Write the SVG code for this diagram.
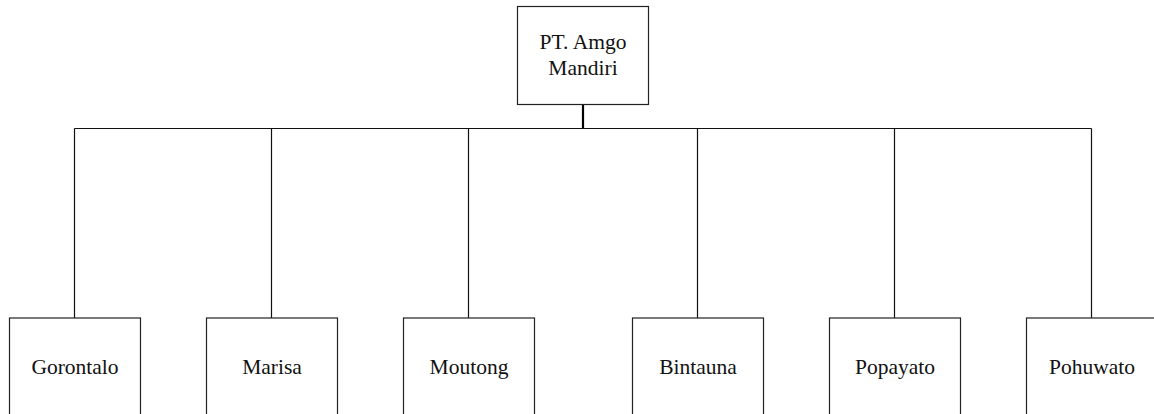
<svg xmlns="http://www.w3.org/2000/svg" width="1154" height="414" viewBox="0 0 1154 414">
<style>
.box{fill:#fff;stroke:#222;stroke-width:1.2}
.lbl{font-family:"Liberation Serif","Times New Roman",serif;font-size:21.5px;fill:#111;text-anchor:middle}
.con{stroke:#111;stroke-width:1.2;fill:none}
.stem{stroke:#000;stroke-width:2.2;fill:none}
</style>
<rect width="1154" height="414" fill="#fff"/>
<g id="connectors">
<line class="stem" x1="583" y1="104.5" x2="583" y2="128.5"/>
<path class="con" d="M74.5 128.5H1091.5M74.5 128.5V318M271.5 128.5V318M468.5 128.5V318M697.5 128.5V318M894.5 128.5V318M1091.5 128.5V318"/>
</g>
<g id="node-root">
<rect class="box" x="517.5" y="6.5" width="131" height="98"/>
<text class="lbl" x="583" y="49">PT. Amgo</text>
<text class="lbl" x="583" y="75">Mandiri</text>
</g>
<g id="node-gorontalo">
<rect class="box" x="9.5" y="318" width="131" height="120"/>
<text class="lbl" x="75" y="374">Gorontalo</text>
</g>
<g id="node-marisa">
<rect class="box" x="206.5" y="318" width="131" height="120"/>
<text class="lbl" x="272" y="374">Marisa</text>
</g>
<g id="node-moutong">
<rect class="box" x="403.5" y="318" width="131" height="120"/>
<text class="lbl" x="469" y="374">Moutong</text>
</g>
<g id="node-bintauna">
<rect class="box" x="632.5" y="318" width="131" height="120"/>
<text class="lbl" x="698" y="374">Bintauna</text>
</g>
<g id="node-popayato">
<rect class="box" x="829.5" y="318" width="131" height="120"/>
<text class="lbl" x="895" y="374">Popayato</text>
</g>
<g id="node-pohuwato">
<rect class="box" x="1026.5" y="318" width="131" height="120"/>
<text class="lbl" x="1092" y="374">Pohuwato</text>
</g>
</svg>
